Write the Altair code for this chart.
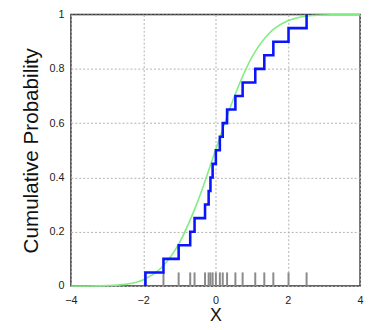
import altair as alt
import pandas as pd

# sample points (read from the step positions / rug)
samples = [-1.94, -1.44, -1.02, -0.70, -0.58, -0.29, -0.19, -0.14, -0.08, 0.01,
           0.12, 0.20, 0.32, 0.55, 0.75, 1.10, 1.35, 1.60, 2.02, 2.52]

# smooth reference CDF
curve_x = [-4, -3.5, -3, -2.5, -2, -1.5, -1, -0.5, 0, 0.5, 1, 1.5, 2, 2.5, 3, 3.5, 4]
curve_y = [0.0, 0.0003, 0.0015, 0.006, 0.023, 0.067, 0.159, 0.309, 0.5, 0.691,
           0.841, 0.933, 0.977, 0.994, 0.9985, 0.9997, 1.0]

n = len(samples)
step_x = [samples[0]] + samples
step_y = [0.0] + [(i + 1) / n for i in range(n)]

step_df = pd.DataFrame({"x": step_x, "y": step_y})
curve_df = pd.DataFrame({"x": curve_x, "y": curve_y})
rug_df = pd.DataFrame({"x": samples, "y0": [0.0] * n, "y1": [0.05] * n})

xscale = alt.Scale(domain=[-4, 4], nice=False, zero=False)
yscale = alt.Scale(domain=[0, 1], nice=False)

font = "Liberation Sans"

xaxis = alt.Axis(values=[-4, -2, 0, 2, 4], title="X", grid=True, gridDash=[2, 2],
                 gridColor="#b0b0b0", gridWidth=1, ticks=False, domain=False,
                 labelFont=font, labelFontSize=11, labelColor="#222", labelPadding=9,
                 titleFont=font, titleFontSize=18, titleFontWeight="normal",
                 titleColor="#111", titlePadding=1, labelFlush=False)
yaxis = alt.Axis(values=[0, 0.2, 0.4, 0.6, 0.8, 1], title="Cumulative Probability",
                 grid=True, gridDash=[2, 2], gridColor="#b0b0b0", gridWidth=1,
                 ticks=False, domain=False, format="~g",
                 labelFont=font, labelFontSize=11, labelColor="#222", labelPadding=7,
                 titleFont=font, titleFontSize=21, titleFontWeight="normal",
                 titleColor="#111", titlePadding=8, labelFlush=False)

curve = alt.Chart(curve_df).mark_line(color="#80ee80", strokeWidth=1.6,
                                      interpolate="monotone").encode(
    x=alt.X("x:Q", scale=xscale, axis=xaxis),
    y=alt.Y("y:Q", scale=yscale, axis=yaxis),
)

rug = alt.Chart(rug_df).mark_rule(color="#8a8a8a", strokeWidth=2).encode(
    x=alt.X("x:Q", scale=xscale),
    y=alt.Y("y0:Q", scale=yscale),
    y2="y1:Q",
)

step = alt.Chart(step_df).mark_line(color="#0a14ff", strokeWidth=2.6,
                                    interpolate="step-after").encode(
    x=alt.X("x:Q", scale=xscale),
    y=alt.Y("y:Q", scale=yscale),
)

chart = alt.layer(curve, rug, step).properties(
    width=294, height=276,
    autosize=alt.AutoSizeParams(type="none"),
    padding={"left": 64, "top": 4, "right": 5, "bottom": 39},
).configure_view(stroke="#333", strokeWidth=1.5)

chart.save("out.html", embed_options={"renderer": "svg", "actions": False})
